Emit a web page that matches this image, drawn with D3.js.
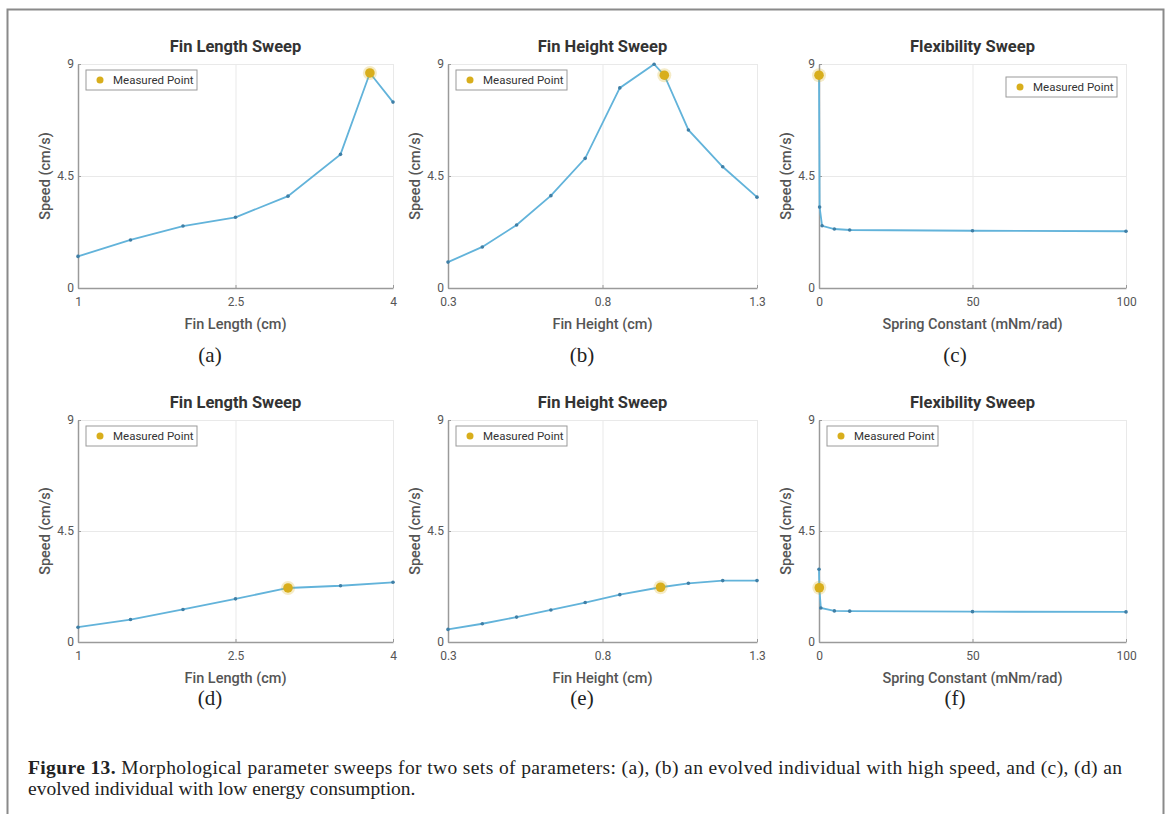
<!DOCTYPE html>
<html>
<head>
<meta charset="utf-8">
<script src="https://cdn.jsdelivr.net/npm/d3@7"></script>
<style>
  body { margin: 0; background: #fff; }
  svg { display: block; }
</style>
</head>
<body>
<svg id="fig" width="1172" height="814"></svg>
<script>
// ---- data ----
// speed axis ticks (same for all panels)
var speedTicks = [0, 4.5, 9];

// (a) fin length sweep, high-speed individual
var finLenA = [1, 1.5, 2, 2.5, 3, 3.5, 3.78, 4];
var speedA = [1.27, 1.93, 2.49, 2.84, 3.69, 5.37, 8.64, 7.47];
var measuredA = [3.78, 8.64];

// (b) fin height sweep, high-speed individual
var finHtB = [0.3, 0.411, 0.522, 0.633, 0.744, 0.856, 0.967, 1.0, 1.078, 1.189, 1.3];
var speedB = [1.04, 1.65, 2.53, 3.71, 5.21, 8.04, 8.99, 8.55, 6.35, 4.87, 3.65];
var measuredB = [1.0, 8.55];

// (c) flexibility sweep, high-speed individual
var springC = [0, 0.2, 1, 5, 10, 50, 100];
var speedC = [8.55, 3.25, 2.5, 2.37, 2.33, 2.3, 2.28];
var measuredC = [0, 8.55];

// (d) fin length sweep, low-energy individual
var finLenD = [1, 1.5, 2, 2.5, 3, 3.5, 4];
var speedD = [0.6, 0.91, 1.32, 1.75, 2.19, 2.28, 2.42];
var measuredD = [3, 2.19];

// (e) fin height sweep, low-energy individual
var finHtE = [0.3, 0.411, 0.522, 0.633, 0.744, 0.856, 0.988, 1.078, 1.189, 1.3];
var speedE = [0.51, 0.74, 1.01, 1.30, 1.60, 1.92, 2.22, 2.38, 2.49, 2.49];
var measuredE = [0.988, 2.22];

// (f) flexibility sweep, low-energy individual
var springF = [0, 0.1, 0.6, 5, 10, 50, 100];
var speedF = [2.95, 2.2, 1.38, 1.26, 1.25, 1.23, 1.22];
var measuredF = [0.1, 2.2];

var finLenTicks = [1, 2.5, 4];
var finHtTicks = [0.3, 0.8, 1.3];
var springTicks = [0, 50, 100];

var caption1 = "Morphological parameter sweeps for two sets of parameters: (a), (b) an evolved individual with high speed, and (c), (d) an";
var caption2 = "evolved individual with low energy consumption.";

// ---- layout ----
var svg = d3.select("#fig");
var cols = [[78, 393], [448, 757], [819, 1126]];
var rows = [[64, 288], [420, 642]];
var subLabelX = [210, 582, 955];
var subLabelY = [362, 705];

var lineColor = "#62b3da",
    dotColor = "#3f7fa6",
    goldColor = "#d8ae1c";

var panels = [
  {id: "a", row: 0, col: 0, title: "Fin Length Sweep", xlabel: "Fin Length (cm)", xs: finLenA, ys: speedA, m: measuredA, xdom: [1, 4], xticks: finLenTicks, legend: "left"},
  {id: "b", row: 0, col: 1, title: "Fin Height Sweep", xlabel: "Fin Height (cm)", xs: finHtB, ys: speedB, m: measuredB, xdom: [0.3, 1.3], xticks: finHtTicks, legend: "left"},
  {id: "c", row: 0, col: 2, title: "Flexibility Sweep", xlabel: "Spring Constant (mNm/rad)", xs: springC, ys: speedC, m: measuredC, xdom: [0, 100], xticks: springTicks, legend: "right"},
  {id: "d", row: 1, col: 0, title: "Fin Length Sweep", xlabel: "Fin Length (cm)", xs: finLenD, ys: speedD, m: measuredD, xdom: [1, 4], xticks: finLenTicks, legend: "left"},
  {id: "e", row: 1, col: 1, title: "Fin Height Sweep", xlabel: "Fin Height (cm)", xs: finHtE, ys: speedE, m: measuredE, xdom: [0.3, 1.3], xticks: finHtTicks, legend: "left"},
  {id: "f", row: 1, col: 2, title: "Flexibility Sweep", xlabel: "Spring Constant (mNm/rad)", xs: springF, ys: speedF, m: measuredF, xdom: [0, 100], xticks: springTicks, legend: "left"}
];

// figure frame (top, left, right edges)
svg.append("path")
  .attr("d", "M7.5,814 V9.5 H1163.5 V814")
  .attr("fill", "none")
  .attr("stroke", "#8a8a8a")
  .attr("stroke-width", 2);

panels.forEach(function(p) {
  var x0 = cols[p.col][0], x1 = cols[p.col][1];
  var y0 = rows[p.row][0], y1 = rows[p.row][1];

  var x = d3.scaleLinear().domain(p.xdom).range([x0, x1]);
  var y = d3.scaleLinear().domain([0, 9]).range([y1, y0]);

  var g = svg.append("g").attr("id", "panel_" + p.id);

  // grid
  g.append("g")
    .attr("transform", `translate(0,${y1})`)
    .call(d3.axisBottom(x).tickValues(p.xticks).tickSize(-(y1 - y0)).tickFormat(""))
    .call(s => s.select(".domain").remove())
    .selectAll("line").attr("stroke", "#e9e9e9");
  g.append("g")
    .attr("transform", `translate(${x0},0)`)
    .call(d3.axisLeft(y).tickValues(speedTicks).tickSize(-(x1 - x0)).tickFormat(""))
    .call(s => s.select(".domain").remove())
    .selectAll("line").attr("stroke", "#e9e9e9");

  // axes
  var xa = g.append("g")
    .attr("transform", `translate(0,${y1})`)
    .call(d3.axisBottom(x).tickValues(p.xticks).tickSizeInner(-3).tickSizeOuter(0).tickPadding(9).tickFormat(d3.format("")));
  var ya = g.append("g")
    .attr("transform", `translate(${x0},0)`)
    .call(d3.axisLeft(y).tickValues(speedTicks).tickSizeInner(-3).tickSizeOuter(0).tickPadding(4).tickFormat(d3.format("")));
  [xa, ya].forEach(function(a) {
    a.select(".domain").attr("stroke", "#9a9a9a").attr("stroke-width", 1.5);
    a.selectAll(".tick line").attr("stroke", "#9a9a9a");
    a.selectAll(".tick text")
      .attr("fill", "#555")
      .style("font-family", "Roboto, sans-serif")
      .style("font-size", "12px");
  });

  // title
  g.append("text")
    .attr("x", (x0 + x1) / 2).attr("y", y0 - 12)
    .attr("text-anchor", "middle")
    .attr("fill", "#333")
    .style("font-family", "Roboto, sans-serif")
    .style("font-weight", "bold")
    .style("font-size", "16.5px")
    .text(p.title);

  // x label
  g.append("text")
    .attr("x", (x0 + x1) / 2).attr("y", y1 + 41)
    .attr("text-anchor", "middle")
    .attr("fill", "#555")
    .style("font-family", "Roboto, sans-serif")
    .style("font-weight", 500)
    .style("font-size", "14.5px")
    .text(p.xlabel);

  // y label
  g.append("text")
    .attr("transform", `translate(${x0 - 28},${(y0 + y1) / 2}) rotate(-90)`)
    .attr("text-anchor", "middle")
    .attr("fill", "#555")
    .style("font-family", "Roboto, sans-serif")
    .style("font-weight", 500)
    .style("font-size", "14.5px")
    .text("Speed (cm/s)");

  // sweep line with dots
  var pts = d3.zip(p.xs, p.ys);
  g.append("path")
    .datum(pts)
    .attr("fill", "none")
    .attr("stroke", lineColor)
    .attr("stroke-width", 1.8)
    .attr("d", d3.line().x(d => x(d[0])).y(d => y(d[1])));
  g.selectAll("circle.pt")
    .data(pts)
    .join("circle")
    .attr("class", "pt")
    .attr("cx", d => x(d[0])).attr("cy", d => y(d[1]))
    .attr("r", 1.8)
    .attr("fill", dotColor);

  // measured point
  g.append("circle")
    .attr("cx", x(p.m[0])).attr("cy", y(p.m[1]))
    .attr("r", 7).attr("fill", goldColor).attr("opacity", 0.25);
  g.append("circle")
    .attr("cx", x(p.m[0])).attr("cy", y(p.m[1]))
    .attr("r", 4.8).attr("fill", goldColor);

  // legend
  var lw = 111, lh = 20;
  var lx = p.legend === "left" ? x0 + 8 : x1 - lw - 9;
  var ly = p.legend === "left" ? y0 + 6 : y0 + 13;
  var lg = g.append("g").attr("transform", `translate(${lx},${ly})`);
  lg.append("rect")
    .attr("width", lw).attr("height", lh)
    .attr("fill", "#fff").attr("stroke", "#9a9a9a").attr("stroke-width", 1);
  lg.append("circle").attr("cx", 14).attr("cy", lh / 2).attr("r", 3.5).attr("fill", goldColor);
  lg.append("text")
    .attr("x", 27).attr("y", lh / 2 + 4)
    .attr("fill", "#333")
    .style("font-family", "Roboto, sans-serif")
    .style("font-size", "11.5px")
    .text("Measured Point");

  // sub-figure label
  svg.append("text")
    .attr("x", subLabelX[p.col]).attr("y", subLabelY[p.row])
    .attr("text-anchor", "middle")
    .attr("fill", "#222")
    .style("font-family", "'Liberation Serif', serif")
    .style("font-size", "21px")
    .text("(" + p.id + ")");
});

// caption
var cap = svg.append("text")
  .attr("x", 28).attr("y", 774)
  .attr("textLength", 1094)
  .attr("lengthAdjust", "spacing")
  .attr("fill", "#222")
  .style("font-family", "'Liberation Serif', serif")
  .style("font-size", "19.5px");
cap.append("tspan").style("font-weight", "bold").text("Figure 13. ");
cap.append("tspan").text(caption1);
svg.append("text")
  .attr("x", 28).attr("y", 795)
  .attr("fill", "#222")
  .style("font-family", "'Liberation Serif', serif")
  .style("font-size", "19.5px")
  .text(caption2);
</script>
</body>
</html>
